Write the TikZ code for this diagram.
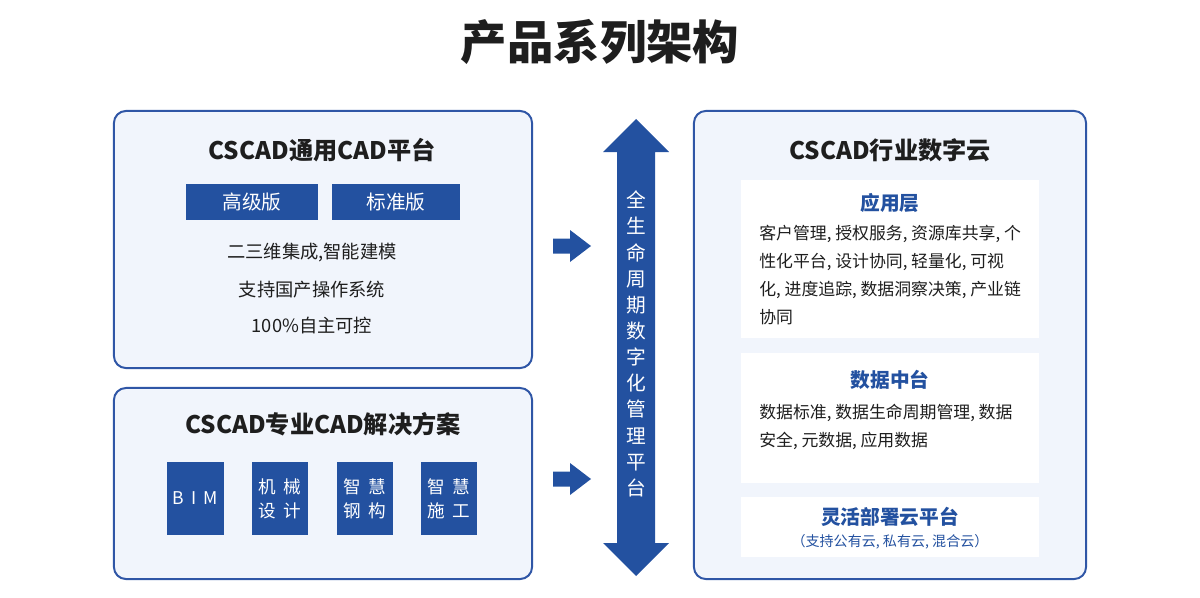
\documentclass[tikz,border=0pt]{standalone}
\usepackage{fontspec}
\setmainfont{Noto Sans CJK SC}
\usetikzlibrary{positioning}
\usepackage{xcolor}
\definecolor{csblue}{HTML}{2351A0}
\definecolor{csline}{HTML}{2F56A6}
\definecolor{cspanel}{HTML}{F1F5FC}
\definecolor{csdark}{HTML}{1E1E1E}

\begin{document}
\begin{tikzpicture}[x=0.025cm, y=-0.025cm,
    groupbox/.style={draw=csline, line width=1.4pt, fill=cspanel, rounded corners=8.5pt, inner sep=0pt},
    grouptitle/.style={text=csdark, font=\fontsize{17.2}{20}\selectfont\bfseries, inner sep=0pt},
    editionbox/.style={fill=csblue, text=white, font=\fontsize{14}{16}\selectfont,
      minimum width=3.3cm, minimum height=0.9cm, inner sep=0pt},
    featureline/.style={text=csdark, font=\fontsize{13}{16}\selectfont, inner sep=0pt},
    solutionbox/.style={fill=csblue, text=white, font=\fontsize{12.5}{17}\selectfont, align=center,
      minimum width=1.42cm, minimum height=1.82cm, inner sep=0pt},
    layerbox/.style={fill=white, minimum width=7.45cm, inner sep=0pt},
    layertitle/.style={text=csblue, font=\fontsize{14}{16}\selectfont\bfseries, inner sep=0pt},
    layertext/.style={text=csdark, font=\fontsize{12}{20}\selectfont, align=left, inner sep=0pt},
    flowarrow/.style={fill=csblue}]
  \useasboundingbox (0,0) rectangle (1200,597);

  % title
  \node[text=csdark, font=\fontsize{33}{36}\selectfont\bfseries, inner sep=0pt] (title) at (600,42) {产品系列架构};

  % left: general CAD platform
  \node[groupbox, minimum width=10.45cm, minimum height=6.425cm] (general) at (323,239.5) {};
  \node[grouptitle] (generaltitle) at (322,150) {CSCAD通用CAD平台};
  \node[editionbox] (advanced) at (252,202) {高级版};
  \node[editionbox, minimum width=3.2cm] (standard) at (396,202) {标准版};
  \node[featureline] (feat1) at (312,253) {二三维集成,智能建模};
  \node[featureline] (feat2) at (312,290) {支持国产操作系统};
  \node[featureline] (feat3) at (312,326) {100\%自主可控};

  % left: professional CAD solutions
  \node[groupbox, minimum width=10.45cm, minimum height=4.775cm] (solution) at (323,483.5) {};
  \node[grouptitle] (solutiontitle) at (323,424) {CSCAD专业CAD解决方案};
  \node[solutionbox] (bim) at (195.5,498.5) {B\hspace{5pt}I\hspace{5pt}M};
  \node[solutionbox] (mech) at (280,498.5) {机\hspace{5pt}械\\设\hspace{5pt}计};
  \node[solutionbox] (steel) at (365,498.5) {智\hspace{5pt}慧\\钢\hspace{5pt}构};
  \node[solutionbox] (build) at (449,498.5) {智\hspace{5pt}慧\\施\hspace{5pt}工};

  % arrows into the lifecycle platform
  \fill[flowarrow] (553,238.5) -- (570,238.5) -- (570,230) -- (591,246) -- (570,262) -- (570,253.5) -- (553,253.5) -- cycle;
  \fill[flowarrow] (553,471.5) -- (570,471.5) -- (570,463) -- (591,479) -- (570,495) -- (570,486.5) -- (553,486.5) -- cycle;
  \fill[flowarrow] (636,119) -- (669,152) -- (655,152) -- (655,543) -- (669,543) -- (636,576)
    -- (603,543) -- (617,543) -- (617,152) -- (603,152) -- cycle;
  \node[text=white, font=\fontsize{14}{18.6}\selectfont, align=center, inner sep=0pt] (lifecycle) at (636,344)
    {全\\生\\命\\周\\期\\数\\字\\化\\管\\理\\平\\台};

  % right: industry cloud
  \node[groupbox, minimum width=9.8cm, minimum height=11.7cm] (cloud) at (890,345) {};
  \node[grouptitle] (cloudtitle) at (890,150) {CSCAD行业数字云};

  \node[layerbox, minimum height=3.95cm] (app) at (890,259) {};
  \node[layertitle] (apptitle) at (890,203) {应用层};
  \node[layertext, anchor=north west] (apptext) at (759,224.5)
    {客户管理, 授权服务, 资源库共享, 个\\性化平台, 设计协同, 轻量化, 可视\\化, 进度追踪, 数据洞察决策, 产业链\\协同};

  \node[layerbox, minimum height=3.25cm] (data) at (890,418) {};
  \node[layertitle] (datatitle) at (890,380) {数据中台};
  \node[layertext, anchor=north west] (datatext) at (759,403.5)
    {数据标准, 数据生命周期管理, 数据\\安全, 元数据, 应用数据};

  \node[layerbox, minimum height=1.5cm] (deploy) at (890,527) {};
  \node[layertitle] (deploytitle) at (890,517) {灵活部署云平台};
  \node[text=csblue, font=\fontsize{10}{12}\selectfont, inner sep=0pt] (deploysub) at (890,542) {（支持公有云, 私有云, 混合云）};
\end{tikzpicture}
\end{document}
